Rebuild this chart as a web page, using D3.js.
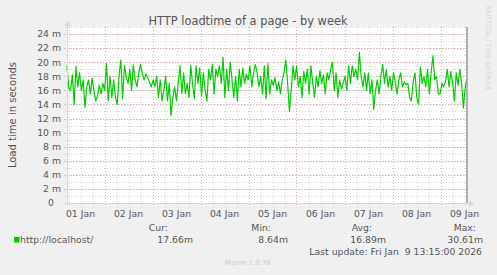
<!DOCTYPE html>
<meta charset="utf-8">
<head>
<style>
  body { margin: 0; background: #f0f0f0; }
  svg { display: block; font-family: "DejaVu Sans", sans-serif; }
  .minor { stroke: #d2d2d2; stroke-width: 1px; stroke-dasharray: 1,2; }
  .major { stroke: #e0aaaa; stroke-width: 1px; stroke-dasharray: 1,2; }
  .axis { stroke: #cfd6f8; stroke-width: 1px; }
  .lbl { fill: #555; font-size: 9.3px; }
  .load { fill: none; stroke: #00cc00; stroke-width: 1.2px; stroke-linejoin: round; }
</style>
</head>
<body>
<script src="https://d3js.org/d3.v7.min.js"></script>
<script>
// graph period (UTC) and values, in ms (milli-seconds)
var startTime = Date.UTC(2026, 0, 1, 5, 15);
var endTime = Date.UTC(2026, 0, 9, 13, 15);

var loadValues = [
  19.5, 16.3, 16, 18.2, 14, 19.4, 16.5, 18.5, 16, 17.5, 13.6, 16.5, 17.5, 15.5, 17.7, 16, 14.5, 15.2, 16.7, 15.5,
  17, 16, 19.8, 14.5, 18, 15, 17.5, 15, 14, 18, 20.3, 14.8, 19.5, 18, 17, 19, 16, 19.6, 17.5, 16.5,
  18.5, 19.7, 18.4, 17.5, 18.3, 17.8, 17.2, 16.5, 17.5, 16.5, 18, 15, 17.5, 14.5, 16, 18, 14.5, 17, 12.4, 15,
  16.5, 14.5, 17, 19.5, 15.6, 18.5, 15.5, 17, 15, 19.5, 17, 14.8, 19.5, 17, 19.2, 15.2, 18.5, 16, 14.5, 19,
  17.5, 19.7, 15.5, 19, 18, 19.5, 17, 20.7, 15, 19, 16, 20, 17.5, 15, 18, 14.5, 19, 16.5, 19.2, 17,
  18.3, 17.5, 19.5, 16.5, 18.5, 19.7, 18.5, 16.5, 18, 15.5, 19.5, 14.8, 19.8, 15.5, 17.5, 16.7, 17.8, 16, 17.2, 15.5,
  17.5, 18.5, 20.3, 17, 13, 16, 19.5, 17.5, 19.5, 16.5, 18, 15, 18.7, 17, 19, 15.5, 19.5, 17, 15, 18,
  16.5, 18.8, 17, 18.2, 15.5, 18.5, 17.5, 19, 20, 16, 18.5, 15, 17.5, 16.2, 17, 18, 16, 19.5, 17, 19.5,
  18, 19, 17.5, 21.4, 18, 16.5, 18.5, 16, 18.5, 15.5, 17.5, 13.3, 16, 17.5, 15.5, 18, 19.7, 17, 19, 16.5,
  18, 16, 18.5, 17.2, 15.5, 17.5, 18.5, 16.5, 17.2, 16.8, 17, 15, 14.5, 17.2, 18.5, 15, 14, 19.3, 17, 18,
  16.5, 19, 15.5, 18.5, 20.9, 17.5, 18, 15.5, 15.5, 17, 16.5, 17.2, 19, 16.5, 18.7, 17, 14.5, 18.5, 16.7, 19,
  17, 13.5, 16.5, 17.66
];

var yMinorTicks = d3.range(0, 26, 1);
var yMajorTicks = d3.range(0, 25, 2);

var legendHeads = ["Cur:", "Min:", "Avg:", "Max:"];
var legendValues = ["17.66m", "8.64m", "16.89m", "30.61m"];
var legendName = "http://localhost/";
var lastUpdate = "Last update: Fri Jan  9 13:15:00 2026";

var width = 497, height = 275;
var plotL = 67, plotR = 467, plotT = 27, plotB = 203;

var step = (endTime - startTime) / (loadValues.length - 1);
var data = loadValues.map(function(v, i) {
  return { t: new Date(startTime + i * step), v: v };
});

var x = d3.scaleUtc().domain([new Date(startTime), new Date(endTime)]).range([plotL, plotR]);
var y = d3.scaleLinear().domain([0, 25]).range([plotB, plotT]);

var svg = d3.select("body").append("svg")
  .attr("width", width)
  .attr("height", height);

// canvas
svg.append("rect")
  .attr("x", plotL).attr("y", plotT)
  .attr("width", plotR - plotL).attr("height", plotB - plotT)
  .attr("fill", "#fff");

// grid: minor every 6 hours / 1 m, major every day / 2 m
var minorX = x.ticks(d3.utcHour.every(6));
var majorX = x.ticks(d3.utcDay.every(1));

svg.selectAll(".vminor").data(minorX).enter().append("line")
  .attr("class", "minor")
  .attr("x1", function(d) { return Math.round(x(d)) + 0.5; })
  .attr("x2", function(d) { return Math.round(x(d)) + 0.5; })
  .attr("y1", plotT).attr("y2", plotB + 2);

svg.selectAll(".hminor").data(yMinorTicks.filter(function(d) { return d > 0; })).enter().append("line")
  .attr("class", "minor")
  .attr("x1", plotL - 2).attr("x2", plotR)
  .attr("y1", function(d) { return Math.round(y(d)) + 0.5; })
  .attr("y2", function(d) { return Math.round(y(d)) + 0.5; });

svg.selectAll(".vmajor").data(majorX).enter().append("line")
  .attr("class", "major")
  .attr("x1", function(d) { return Math.round(x(d)) + 0.5; })
  .attr("x2", function(d) { return Math.round(x(d)) + 0.5; })
  .attr("y1", plotT).attr("y2", plotB + 3);

svg.selectAll(".hmajor").data(yMajorTicks.filter(function(d) { return d > 0; })).enter().append("line")
  .attr("class", "major")
  .attr("x1", plotL - 3).attr("x2", plotR)
  .attr("y1", function(d) { return Math.round(y(d)) + 0.5; })
  .attr("y2", function(d) { return Math.round(y(d)) + 0.5; });

// the load time line
var line = d3.line()
  .x(function(d) { return x(d.t); })
  .y(function(d) { return y(d.v); });

svg.append("path")
  .datum(data)
  .attr("class", "load")
  .attr("d", line);

// right edge rule
svg.append("line")
  .attr("x1", plotR).attr("x2", plotR)
  .attr("y1", plotT).attr("y2", plotB)
  .attr("stroke", "#a0a0a0").attr("stroke-width", 1.6);

// axes with arrows
svg.append("line").attr("class", "axis")
  .attr("x1", plotL - 3).attr("x2", plotR + 4)
  .attr("y1", plotB + 0.5).attr("y2", plotB + 0.5);
svg.append("line").attr("class", "axis")
  .attr("x1", plotL + 0.5).attr("x2", plotL + 0.5)
  .attr("y1", plotB + 3).attr("y2", plotT - 2);
svg.append("path")
  .attr("fill", "#cfd6f8")
  .attr("d", "M" + (plotR + 2) + "," + (plotB - 3) + "L" + (plotR + 7) + "," + (plotB + 0.5) + "L" + (plotR + 2) + "," + (plotB + 4) + "Z");
svg.append("path")
  .attr("fill", "#cfd6f8")
  .attr("d", "M" + (plotL - 3) + "," + (plotT - 1) + "L" + (plotL + 0.5) + "," + (plotT - 6) + "L" + (plotL + 4) + "," + (plotT - 1) + "Z");

// x labels at noon of each day
var labelX = majorX.map(function(d) { return d3.utcHour.offset(d, 12); });
labelX.unshift(d3.utcHour.offset(majorX[0], -12));
svg.selectAll(".xl").data(labelX.filter(function(d) { return x(d) >= plotL && x(d) <= plotR + 1; }))
  .enter().append("text")
  .attr("class", "lbl")
  .attr("x", function(d) { return x(d); })
  .attr("y", 217)
  .attr("text-anchor", "middle")
  .text(d3.utcFormat("%d %b"));

// y labels
svg.selectAll(".yl").data(yMajorTicks).enter().append("text")
  .attr("class", "lbl")
  .attr("x", function(d) { return d === 0 ? 54 : 61; })
  .attr("y", function(d) { return y(d) + 3.3; })
  .attr("text-anchor", "end")
  .text(function(d) { return d === 0 ? "0" : d + " m"; });

// title and axis label
svg.append("text")
  .attr("x", 248).attr("y", 25)
  .attr("text-anchor", "middle")
  .attr("fill", "#555")
  .style("font-size", "11.4px")
  .text("HTTP loadtime of a page - by week");

svg.append("text")
  .attr("transform", "translate(16,115) rotate(-90)")
  .attr("text-anchor", "middle")
  .attr("fill", "#555")
  .style("font-size", "10px")
  .text("Load time in seconds");

svg.append("text")
  .attr("transform", "translate(486,5) rotate(90)")
  .attr("text-anchor", "start")
  .attr("fill", "#d4d4d4")
  .style("font-size", "6.6px")
  .text("RRDTOOL / TOBI OETIKER");

// legend
var headX = [168, 271, 372, 476];
var valX = [193, 288, 386, 483];

svg.append("rect")
  .attr("x", 14).attr("y", 237)
  .attr("width", 5.5).attr("height", 5.5)
  .attr("fill", "#00cc00");
svg.append("text").attr("class", "lbl")
  .attr("x", 20).attr("y", 243)
  .text(legendName);

svg.selectAll(".lh").data(legendHeads).enter().append("text")
  .attr("class", "lbl")
  .attr("x", function(d, i) { return headX[i]; })
  .attr("y", 231)
  .attr("text-anchor", "end")
  .text(function(d) { return d; });

svg.selectAll(".lv").data(legendValues).enter().append("text")
  .attr("class", "lbl")
  .attr("x", function(d, i) { return valX[i]; })
  .attr("y", 243)
  .attr("text-anchor", "end")
  .text(function(d) { return d; });

svg.append("text").attr("class", "lbl")
  .attr("x", 482).attr("y", 255)
  .attr("text-anchor", "end")
  .style("white-space", "pre")
  .text(lastUpdate);

svg.append("text")
  .attr("x", 248).attr("y", 265)
  .attr("text-anchor", "middle")
  .attr("fill", "#cccccc")
  .style("font-size", "7px")
  .text("Munin 2.0.76");
</script>
</body>
</html>
